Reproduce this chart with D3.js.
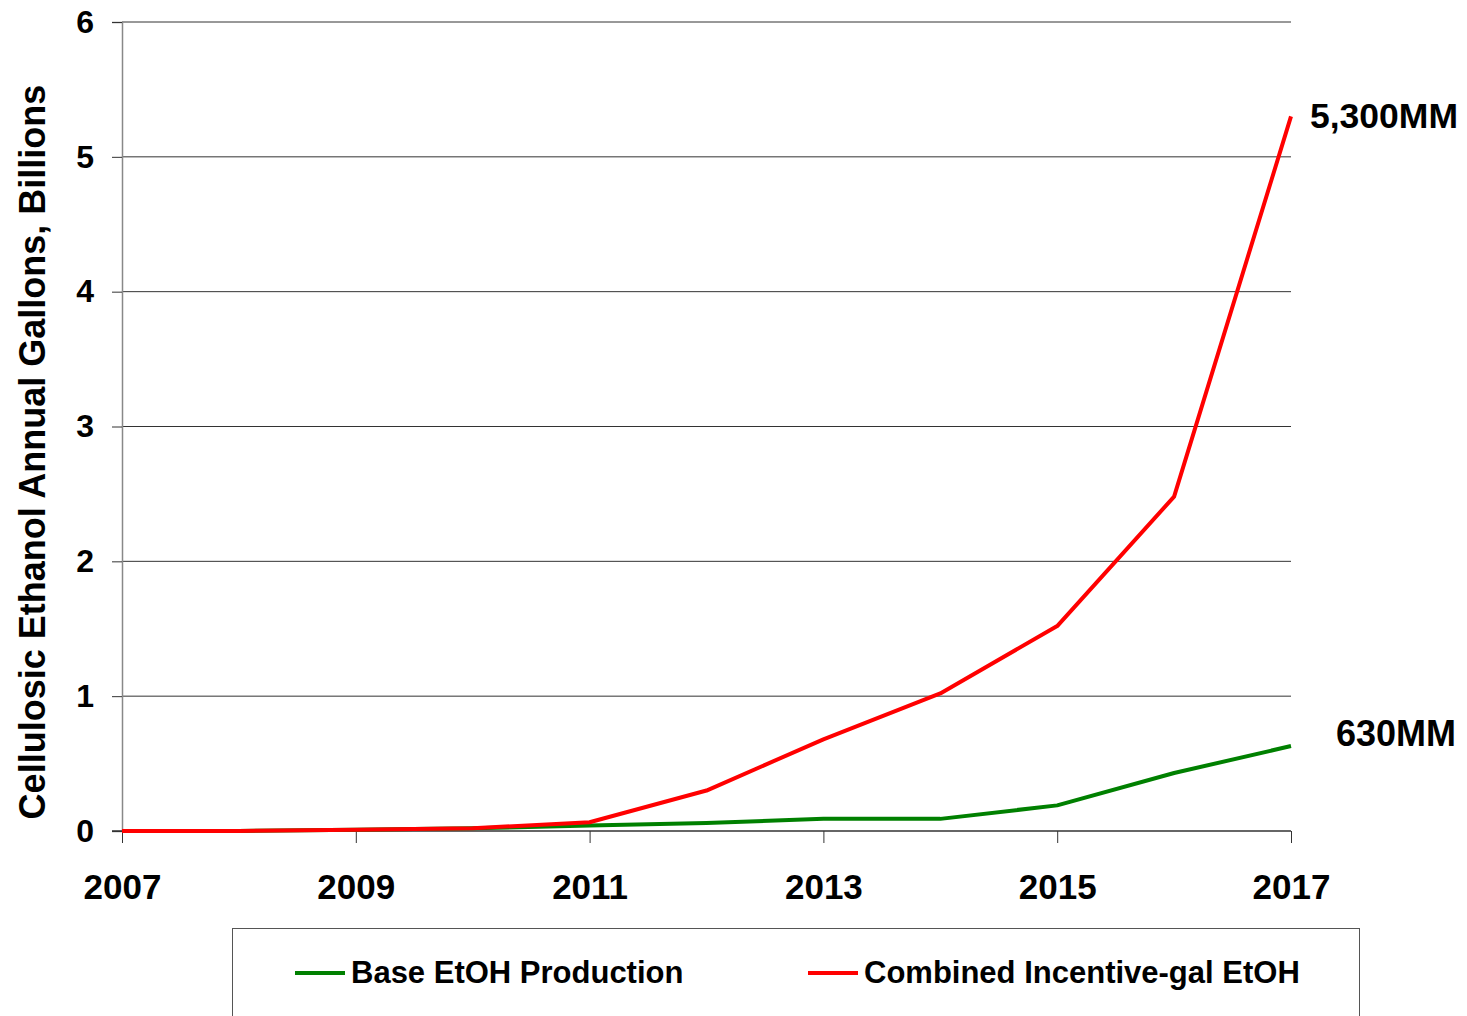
<!DOCTYPE html>
<html>
<head>
<meta charset="utf-8">
<script src="https://cdn.jsdelivr.net/npm/d3@7"></script>
<style>
  html, body { margin: 0; padding: 0; background: #fff; }
  svg { display: block; font-family: "Liberation Sans", Arial, sans-serif; font-weight: bold; }
</style>
</head>
<body>
<svg id="chart" width="1467" height="1016"></svg>
<script>
// Cellulosic ethanol production outlook, billions of gallons per year
const years = [2007, 2008, 2009, 2010, 2011, 2012, 2013, 2014, 2015, 2016, 2017];
const baseProduction = [0, 0, 0.01, 0.02, 0.04, 0.06, 0.09, 0.09, 0.19, 0.43, 0.63];
const combinedIncentive = [0, 0, 0.01, 0.02, 0.065, 0.30, 0.68, 1.02, 1.52, 2.48, 5.30];
const yTicks = [0, 1, 2, 3, 4, 5, 6];
const xTicks = [2007, 2009, 2011, 2013, 2015, 2017];
const seriesNames = ["Base EtOH Production", "Combined Incentive-gal EtOH"];
const endLabels = ["630MM", "5,300MM"];
const yTitle = "Cellulosic Ethanol Annual Gallons, Billions";

const svg = d3.select("#chart");
const plotLeft = 122, plotRight = 1291, plotTop = 22, plotBottom = 831;

const x = d3.scaleLinear().domain([2007, 2017]).range([plotLeft, plotRight]);
const y = d3.scaleLinear().domain([0, 6]).range([plotBottom, plotTop]);

// horizontal gridlines
svg.append("g")
  .selectAll("line")
  .data(yTicks.filter(d => d > 0))
  .join("line")
  .attr("x1", plotLeft).attr("x2", plotRight)
  .attr("y1", d => y(d)).attr("y2", d => y(d))
  .attr("stroke", "#333").attr("stroke-width", 1);

// y axis
const yAxis = svg.append("g")
  .attr("transform", `translate(${plotLeft},0)`)
  .call(d3.axisLeft(y).tickValues(yTicks).tickFormat(d3.format("d")).tickSize(10).tickPadding(18));
yAxis.select(".domain").attr("stroke", "#888").attr("stroke-width", 1.5);
yAxis.selectAll(".tick line").attr("stroke", "#333");
yAxis.selectAll("text").attr("font-size", 32).attr("font-weight", "bold")
  .attr("font-family", "Liberation Sans, Arial, sans-serif").attr("fill", "#000");

// x axis
const xAxis = svg.append("g")
  .attr("transform", `translate(0,${plotBottom})`)
  .call(d3.axisBottom(x).tickValues(xTicks).tickFormat(d3.format("d")).tickSize(12).tickPadding(31));
xAxis.select(".domain").attr("d", `M${plotLeft - 10},0H${plotRight}`).attr("stroke", "#333").attr("stroke-width", 1.5);
xAxis.selectAll(".tick line").attr("stroke", "#333");
xAxis.selectAll("text").attr("font-size", 35).attr("font-weight", "bold")
  .attr("font-family", "Liberation Sans, Arial, sans-serif").attr("fill", "#000");

// y axis title
svg.append("text")
  .attr("transform", `translate(45,${452}) rotate(-90)`)
  .attr("text-anchor", "middle")
  .attr("font-size", 36)
  .attr("fill", "#000")
  .text(yTitle);

// lines
const line = d3.line().x((d, i) => x(years[i])).y(d => y(d));
const series = [
  { values: baseProduction, color: "#008000" },
  { values: combinedIncentive, color: "#ff0000" }
];
svg.append("g")
  .selectAll("path")
  .data(series)
  .join("path")
  .attr("d", d => line(d.values))
  .attr("fill", "none")
  .attr("stroke", d => d.color)
  .attr("stroke-width", 4)
  .attr("stroke-linejoin", "round");

// end-of-line value labels
const last = years.length - 1;
svg.append("text")
  .attr("x", 1396).attr("y", y(baseProduction[last]) - 10)
  .attr("text-anchor", "middle").attr("dominant-baseline", "middle")
  .attr("font-size", 36).attr("fill", "#000")
  .text(endLabels[0]);
svg.append("text")
  .attr("x", 1384).attr("y", y(combinedIncentive[last]) + 2)
  .attr("text-anchor", "middle").attr("dominant-baseline", "middle")
  .attr("font-size", 35.5).attr("fill", "#000")
  .text(endLabels[1]);

// legend
const legend = svg.append("g");
legend.append("rect")
  .attr("x", 232.5).attr("y", 928.5).attr("width", 1127).attr("height", 120)
  .attr("fill", "#fff").attr("stroke", "#555").attr("stroke-width", 1);
const legendX = [295, 808];
seriesNames.forEach((name, i) => {
  legend.append("line")
    .attr("x1", legendX[i]).attr("x2", legendX[i] + 50)
    .attr("y1", 973).attr("y2", 973)
    .attr("stroke", series[i].color).attr("stroke-width", 4);
  legend.append("text")
    .attr("x", legendX[i] + 56).attr("y", 975)
    .attr("dominant-baseline", "middle")
    .attr("font-size", 31).attr("fill", "#000")
    .text(name);
});
</script>
</body>
</html>
